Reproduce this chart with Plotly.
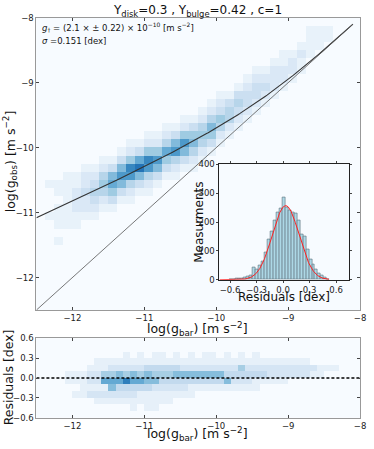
import numpy as np
import plotly.graph_objects as go

# --- main 2D histogram: log(g_bar) vs log(g_obs), bins of 0.125 dex from -12.5
bin_main = 0.125
# one entry per x column: (lower edge of first filled y bin, counts going up)
main_cols = [
    (None, []),
    (-11.125, [1, 0, 0, 0, 1]),
    (-11.5, [1, 0, 1, 1, 1, 0, 1, 1]),
    (-11.25, [1, 1, 1, 1, 1, 1, 1]),
    (-11.25, [1, 1, 2, 2, 2, 1, 1]),
    (-11.125, [1, 2, 2, 3, 2, 2, 1]),
    (-11.125, [1, 2, 3, 4, 3, 2, 1]),
    (-11.0, [1, 2, 4, 5, 4, 2, 1]),
    (-11.0, [1, 3, 5, 7, 6, 3, 1]),
    (-10.875, [1, 3, 6, 8, 6, 3, 1]),
    (-10.875, [1, 2, 4, 8, 9, 5, 2, 1]),
    (-10.75, [1, 3, 6, 10, 7, 3, 1]),
    (-10.75, [1, 2, 4, 8, 9, 5, 2, 1]),
    (-10.625, [1, 3, 6, 8, 5, 2, 1]),
    (-10.5, [1, 3, 5, 7, 4, 2, 1]),
    (-10.5, [1, 2, 4, 8, 6, 3, 1]),
    (-10.375, [1, 3, 6, 8, 5, 2, 1]),
    (-10.375, [1, 2, 4, 6, 5, 3, 1]),
    (-10.25, [1, 2, 4, 5, 4, 2, 1]),
    (-10.125, [1, 3, 5, 6, 4, 2, 1]),
    (-10.0, [1, 2, 4, 5, 3, 2, 1]),
    (-9.875, [1, 2, 4, 4, 3, 1]),
    (-9.75, [1, 2, 3, 4, 3, 1]),
    (-9.625, [1, 2, 3, 3, 2, 1]),
    (-9.5, [1, 2, 3, 3, 2, 1]),
    (-9.375, [1, 2, 3, 2, 1]),
    (-9.25, [1, 2, 2, 2, 1]),
    (-9.125, [1, 2, 2, 1, 1]),
    (-9.0, [1, 2, 2, 1]),
    (-8.875, [1, 1, 2, 1]),
    (-8.625, [1, 1, 1, 1]),
    (-8.5, [1, 1, 1]),
    (-8.375, [1, 1]),
    (None, []),
    (None, []),
    (None, []),
]

# --- residual 2D histogram, bins 0.1 dex in x (from -12.5) and 0.1 in residual (from -0.6)
res_rows = [
    "000000000000000000000000000000000000000000000",  # -0.6..-0.5
    "000000000000010110000000000000000000000000000",  # -0.5..-0.4
    "000000001111111111100000000000000000000000000",  # -0.4..-0.3
    "000001122222221111111100000000000000000000000",  # -0.3..-0.2
    "000000111153333322222111111111100000000000000",  # -0.2..-0.1
    "000011122666866553333333335222111110000000000",  # -0.1..0.0
    "000011122445454544455555553333332222221100000",  # 0.0..0.1
    "000000011122222333332222222242222222222111000",  # 0.1..0.2
    "000000001111111111111111111111111111110000000",  # 0.2..0.3
    "000000000000101011010101101010100000000000000",  # 0.3..0.4
    "000000000000000000000000000000000000000000000",  # 0.4..0.5
    "000000000000000000000000000000000000000000000",  # 0.5..0.6
]

# --- residual histogram (inset)
hist_edges_start = -0.611
hist_width = 0.0335
hist_counts = [0, 3, 5, 6, 6, 8, 10, 15, 43, 35, 49, 65, 94, 139, 167, 207, 235, 246,
               286, 252, 241, 233, 229, 207, 158, 150, 105, 71, 54, 37, 23, 15, 7, 3]

# fit values
g_dagger = 2.1e-10
gauss_amp, gauss_mu, gauss_sigma = 257, 0.03, 0.151

# ---------- build grids
mx = -12.5 + bin_main * (np.arange(36) + 0.5)
my = -12.5 + bin_main * (np.arange(36) + 0.5)
z_main = np.zeros((36, 36))
for i, (y0, counts) in enumerate(main_cols):
    if y0 is None:
        continue
    j0 = int(round((y0 + 12.5) / bin_main))
    for k, c in enumerate(counts):
        z_main[j0 + k, i] = c

rx = -12.5 + 0.1 * (np.arange(45) + 0.5)
ry = -0.6 + 0.1 * (np.arange(12) + 0.5)
z_res = np.array([[int(c) for c in row] for row in res_rows])

hist_centers = hist_edges_start + hist_width * (np.arange(len(hist_counts)) + 0.5)

lgb = np.linspace(-12.5, -8.1, 200)
gb = 10 ** lgb
lgo = np.log10(gb / (1 - np.exp(-np.sqrt(gb / g_dagger))))

rg = np.linspace(-0.72, 0.52, 300)
gfit = gauss_amp * np.exp(-(rg - gauss_mu) ** 2 / (2 * gauss_sigma ** 2))

blues = "Blues"
fig = go.Figure()
fig.add_trace(go.Heatmap(x=mx, y=my, z=z_main, colorscale=blues, zmin=0, zmax=13.5,
                         showscale=False, xaxis="x", yaxis="y", hoverinfo="skip"))
fig.add_trace(go.Scatter(x=lgb, y=lgo, mode="lines", line=dict(color="#333333", width=1.1),
                         xaxis="x", yaxis="y", showlegend=False))
fig.add_trace(go.Scatter(x=[-12.5, -8.1], y=[-12.5, -8.1], mode="lines",
                         line=dict(color="#555555", width=0.8), xaxis="x", yaxis="y", showlegend=False))

fig.add_trace(go.Heatmap(x=rx, y=ry, z=z_res, colorscale=blues, zmin=0, zmax=11.5,
                         showscale=False, xaxis="x2", yaxis="y2", hoverinfo="skip"))
fig.add_trace(go.Scatter(x=[-12.5, -8], y=[0, 0], mode="lines",
                         line=dict(color="black", width=1.3, dash="3px,2px"),
                         xaxis="x2", yaxis="y2", showlegend=False))

fig.add_trace(go.Bar(x=hist_centers, y=hist_counts, width=hist_width,
                     marker=dict(color="#add8e6", line=dict(color="#5a6f78", width=0.6)),
                     xaxis="x3", yaxis="y3", showlegend=False))
fig.add_trace(go.Scatter(x=rg, y=gfit, mode="lines", line=dict(color="#ff2020", width=1),
                         xaxis="x3", yaxis="y3", showlegend=False))

W, H = 374, 449
def px(v): return v / W
def py(v): return 1 - v / H

font = "DejaVu Sans, Arial, sans-serif"
tfont = dict(size=8.5, color="#222", family=font)
ax_common = dict(showgrid=False, zeroline=False, ticks="inside", ticklen=3, tickcolor="#444",
                 linecolor="#999999", linewidth=1, mirror="allticks", showline=True,
                 tickfont=tfont)
inset_ax = dict(showgrid=False, zeroline=False, ticks="outside", ticklen=2, linecolor="#222",
                mirror="allticks", showline=True, tickfont=tfont)

big_ticks = [-12, -11, -10, -9, -8]
big_text = ["−12", "−11", "−10", "−9", "−8"]
res_ticks = [-0.6, -0.3, 0, 0.3, 0.6]
res_text = ["−0.6", "−0.3", "0.0", "0.3", "0.6"]

fig.update_layout(
    width=W, height=H, margin=dict(l=0, r=0, t=0, b=0),
    paper_bgcolor="white", plot_bgcolor="#f7fbff",
    font=dict(family=font, color="#222"),
    showlegend=False, hovermode=False,
    xaxis=dict(domain=[px(37), px(366)], range=[-12.5, -8], tickvals=big_ticks,
               ticktext=big_text, anchor="y", **ax_common),
    yaxis=dict(domain=[py(312), py(13)], range=[-12.5, -8], tickvals=big_ticks,
               ticktext=big_text, anchor="x", **ax_common),
    xaxis2=dict(domain=[px(37), px(366)], range=[-12.5, -8], tickvals=big_ticks,
                ticktext=big_text, anchor="y2", **ax_common),
    yaxis2=dict(domain=[py(422), py(341)], range=[-0.6, 0.6], tickvals=res_ticks,
                ticktext=res_text, anchor="x2", **ax_common),
    xaxis3=dict(domain=[px(223), px(355)], range=[-0.72, 0.75], tickvals=res_ticks,
                ticktext=res_text, anchor="y3", **inset_ax),
    yaxis3=dict(domain=[py(281), py(163)], range=[0, 400], tickvals=[0, 100, 200, 300, 400],
                anchor="x3", **inset_ax),
    bargap=0,
)

fig.add_shape(type="rect", xref="x3 domain", yref="y3 domain", x0=0, x1=1, y0=0, y1=1,
              fillcolor="white", line=dict(width=0), layer="below")

ann = [
    ("Υ<sub>disk</sub>=0.3 , Υ<sub>bulge</sub>=0.42 , c=1", 201, 6, 12, 0),
    ("log(g<sub>obs</sub>) [m s<sup>−2</sup>]", 11, 160, 12.5, -90),
    ("log(g<sub>bar</sub>) [m s<sup>−2</sup>]", 201, 331, 12.5, 0),
    ("Residuals [dex]", 9, 381, 12.5, -90),
    ("log(g<sub>bar</sub>) [m s<sup>−2</sup>]", 201, 439, 12.5, 0),
    ("Residuals [dex]", 289, 299, 12, 0),
    ("Measurments", 202, 222, 12, -90),
]
for text, x, y, size, ang in ann:
    fig.add_annotation(text=text, x=px(x), y=py(y), xref="paper", yref="paper", showarrow=False,
                       textangle=ang, font=dict(size=size, color="#111", family=font),
                       xanchor="center", yanchor="middle")

fig.add_annotation(text="<i>g</i><sub>†</sub> = (2.1 × ± 0.22) × 10<sup>−10</sup> [m s<sup>−2</sup>]",
                   x=px(41), y=py(23), xref="paper", yref="paper", showarrow=False,
                   xanchor="left", yanchor="middle", font=dict(size=8.5, color="#111", family=font))
fig.add_annotation(text="<i>σ</i> =0.151 [dex]",
                   x=px(41), y=py(37), xref="paper", yref="paper", showarrow=False,
                   xanchor="left", yanchor="middle", font=dict(size=8.5, color="#111", family=font))

# drop the browser's default body margin and scrollbars so the figure fills the page
page_css = ("document.documentElement.style.overflow='hidden';"
            "document.body.style.margin='0px';document.body.style.overflow='hidden';")
fig.write_html("out.html", config={"displayModeBar": False}, post_script=page_css)
